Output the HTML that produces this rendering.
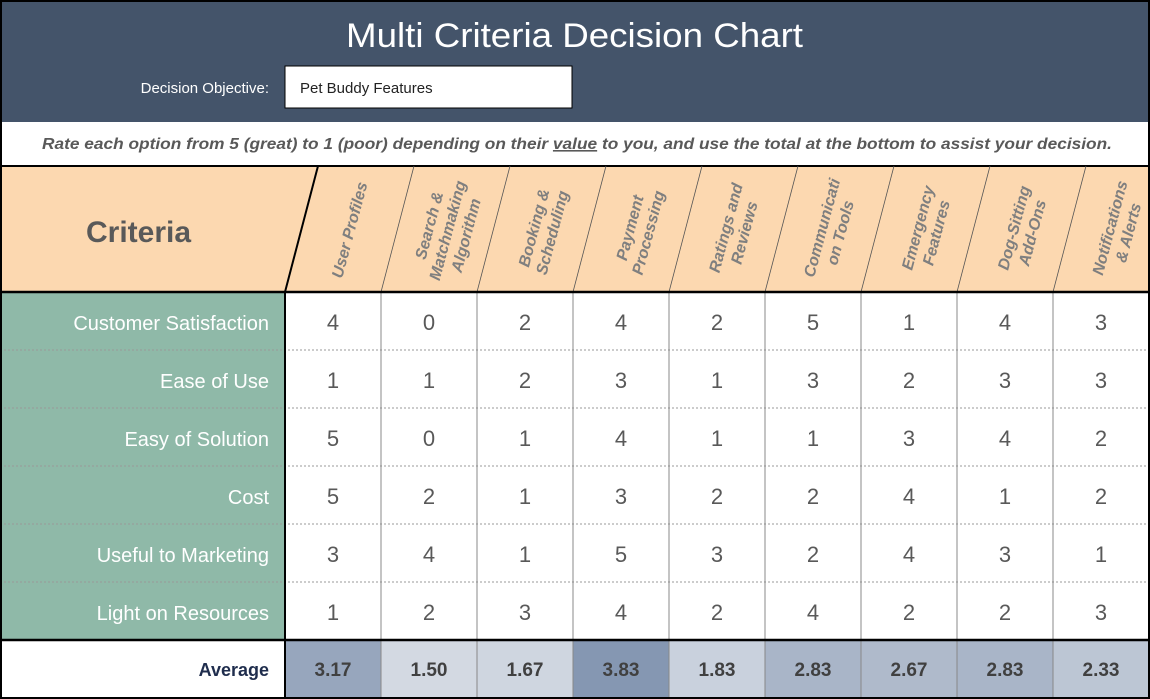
<!DOCTYPE html>
<html><head><meta charset="utf-8"><style>body{margin:0;background:#fff}svg{display:block}</style></head><body>
<svg width="1150" height="699" viewBox="0 0 1150 699" xmlns="http://www.w3.org/2000/svg" font-family="Liberation Sans, sans-serif">
<rect x="0" y="0" width="1150" height="699" fill="#fff"/>
<rect x="0" y="0" width="1150" height="122" fill="#44546a"/>
<text x="346" y="47" textLength="457" lengthAdjust="spacingAndGlyphs" fill="#fff" font-size="34">Multi Criteria Decision Chart</text>
<text x="269" y="93" text-anchor="end" fill="#fff" font-size="15">Decision Objective:</text>
<rect x="285" y="66" width="287" height="42" fill="#fff" stroke="#000" stroke-width="1"/>
<text x="300" y="93" fill="#222" font-size="15">Pet Buddy Features</text>
<text x="42" y="149" textLength="1070" lengthAdjust="spacingAndGlyphs" fill="#595959" font-size="16" font-style="italic" font-weight="bold">Rate each option from 5 (great) to 1 (poor) depending on their <tspan text-decoration="underline">value</tspan> to you, and use the total at the bottom to assist your decision.</text>
<rect x="0" y="166" width="1150" height="126" fill="#fcd8b0"/>
<line x1="0" y1="166" x2="1150" y2="166" stroke="#000" stroke-width="2"/>
<text x="86" y="242" fill="#595959" font-size="30" font-weight="bold">Criteria</text>
<g stroke="#555" stroke-width="0.8">
<line x1="381" y1="292" x2="414" y2="166"/><line x1="477" y1="292" x2="510" y2="166"/><line x1="573" y1="292" x2="606" y2="166"/><line x1="669" y1="292" x2="702" y2="166"/><line x1="765" y1="292" x2="798" y2="166"/><line x1="861" y1="292" x2="894" y2="166"/><line x1="957" y1="292" x2="990" y2="166"/><line x1="1053" y1="292" x2="1086" y2="166"/>
</g>
<line x1="285" y1="292" x2="318" y2="166" stroke="#000" stroke-width="2"/>
<g fill="#7f7f7f" font-size="16" font-style="italic" font-weight="bold" text-anchor="middle">
<text transform="translate(350,230) rotate(-75)"><tspan x="0" y="5">User Profiles</tspan></text>
<text transform="translate(446,230) rotate(-75)"><tspan x="0" y="-12">Search &amp;</tspan><tspan x="0" dy="19">Matchmaking</tspan><tspan x="0" dy="19">Algorithm</tspan></text>
<text transform="translate(542,230) rotate(-75)"><tspan x="0" y="-3">Booking &amp;</tspan><tspan x="0" dy="19">Scheduling</tspan></text>
<text transform="translate(638,230) rotate(-75)"><tspan x="0" y="-3">Payment</tspan><tspan x="0" dy="19">Processing</tspan></text>
<text transform="translate(734,230) rotate(-75)"><tspan x="0" y="-3">Ratings and</tspan><tspan x="0" dy="19">Reviews</tspan></text>
<text transform="translate(830,230) rotate(-75)"><tspan x="0" y="-3">Communicati</tspan><tspan x="0" dy="19">on Tools</tspan></text>
<text transform="translate(926,230) rotate(-75)"><tspan x="0" y="-3">Emergency</tspan><tspan x="0" dy="19">Features</tspan></text>
<text transform="translate(1022,230) rotate(-75)"><tspan x="0" y="-3">Dog-Sitting</tspan><tspan x="0" dy="19">Add-Ons</tspan></text>
<text transform="translate(1118,230) rotate(-75)"><tspan x="0" y="-3">Notifications</tspan><tspan x="0" dy="19">&amp; Alerts</tspan></text>
</g>
<rect x="0" y="292" width="285" height="348" fill="#8fb9a8"/>
<g stroke="#999" stroke-width="1" stroke-dasharray="2,2">
<line x1="0" y1="350" x2="1150" y2="350"/><line x1="0" y1="408" x2="1150" y2="408"/><line x1="0" y1="466" x2="1150" y2="466"/><line x1="0" y1="524" x2="1150" y2="524"/><line x1="0" y1="582" x2="1150" y2="582"/>
</g>
<g stroke="#888" stroke-width="1">
<line x1="381" y1="292" x2="381" y2="698"/><line x1="477" y1="292" x2="477" y2="698"/><line x1="573" y1="292" x2="573" y2="698"/><line x1="669" y1="292" x2="669" y2="698"/><line x1="765" y1="292" x2="765" y2="698"/><line x1="861" y1="292" x2="861" y2="698"/><line x1="957" y1="292" x2="957" y2="698"/><line x1="1053" y1="292" x2="1053" y2="698"/>
</g>
<g fill="#fff" font-size="20" text-anchor="end">
<text x="269" y="330">Customer Satisfaction</text><text x="269" y="388">Ease of Use</text><text x="269" y="446">Easy of Solution</text><text x="269" y="504">Cost</text><text x="269" y="562">Useful to Marketing</text><text x="269" y="620">Light on Resources</text>
</g>
<g fill="#595959" font-size="22" text-anchor="middle">
<text x="333" y="330">4</text><text x="429" y="330">0</text><text x="525" y="330">2</text><text x="621" y="330">4</text><text x="717" y="330">2</text><text x="813" y="330">5</text><text x="909" y="330">1</text><text x="1005" y="330">4</text><text x="1101" y="330">3</text>
<text x="333" y="388">1</text><text x="429" y="388">1</text><text x="525" y="388">2</text><text x="621" y="388">3</text><text x="717" y="388">1</text><text x="813" y="388">3</text><text x="909" y="388">2</text><text x="1005" y="388">3</text><text x="1101" y="388">3</text>
<text x="333" y="446">5</text><text x="429" y="446">0</text><text x="525" y="446">1</text><text x="621" y="446">4</text><text x="717" y="446">1</text><text x="813" y="446">1</text><text x="909" y="446">3</text><text x="1005" y="446">4</text><text x="1101" y="446">2</text>
<text x="333" y="504">5</text><text x="429" y="504">2</text><text x="525" y="504">1</text><text x="621" y="504">3</text><text x="717" y="504">2</text><text x="813" y="504">2</text><text x="909" y="504">4</text><text x="1005" y="504">1</text><text x="1101" y="504">2</text>
<text x="333" y="562">3</text><text x="429" y="562">4</text><text x="525" y="562">1</text><text x="621" y="562">5</text><text x="717" y="562">3</text><text x="813" y="562">2</text><text x="909" y="562">4</text><text x="1005" y="562">3</text><text x="1101" y="562">1</text>
<text x="333" y="620">1</text><text x="429" y="620">2</text><text x="525" y="620">3</text><text x="621" y="620">4</text><text x="717" y="620">2</text><text x="813" y="620">4</text><text x="909" y="620">2</text><text x="1005" y="620">2</text><text x="1101" y="620">3</text>
</g>
<rect x="285" y="640" width="96" height="58" fill="#97a6bd"/>
<rect x="381" y="640" width="96" height="58" fill="#d3d9e2"/>
<rect x="477" y="640" width="96" height="58" fill="#cfd6e0"/>
<rect x="573" y="640" width="96" height="58" fill="#8597b2"/>
<rect x="669" y="640" width="96" height="58" fill="#c9d1dd"/>
<rect x="765" y="640" width="96" height="58" fill="#a9b5c8"/>
<rect x="861" y="640" width="96" height="58" fill="#afbacb"/>
<rect x="957" y="640" width="96" height="58" fill="#a9b5c8"/>
<rect x="1053" y="640" width="97" height="58" fill="#bcc6d4"/>
<g stroke="#888" stroke-width="1">
<line x1="381" y1="640" x2="381" y2="698"/><line x1="477" y1="640" x2="477" y2="698"/><line x1="573" y1="640" x2="573" y2="698"/><line x1="669" y1="640" x2="669" y2="698"/><line x1="765" y1="640" x2="765" y2="698"/><line x1="861" y1="640" x2="861" y2="698"/><line x1="957" y1="640" x2="957" y2="698"/><line x1="1053" y1="640" x2="1053" y2="698"/>
</g>
<text x="269" y="676" text-anchor="end" fill="#1f2d4d" font-size="18" font-weight="bold">Average</text>
<g fill="#404040" font-size="19" font-weight="bold" text-anchor="middle">
<text x="333" y="676">3.17</text><text x="429" y="676">1.50</text><text x="525" y="676">1.67</text><text x="621" y="676">3.83</text><text x="717" y="676">1.83</text><text x="813" y="676">2.83</text><text x="909" y="676">2.67</text><text x="1005" y="676">2.83</text><text x="1101" y="676">2.33</text>
</g>
<line x1="0" y1="292" x2="1150" y2="292" stroke="#000" stroke-width="2.5"/>
<line x1="0" y1="640" x2="1150" y2="640" stroke="#000" stroke-width="2.5"/>
<line x1="285" y1="292" x2="285" y2="698" stroke="#000" stroke-width="2"/>
<rect x="1" y="1" width="1148" height="697" fill="none" stroke="#000" stroke-width="2"/>
</svg>
</body></html>
